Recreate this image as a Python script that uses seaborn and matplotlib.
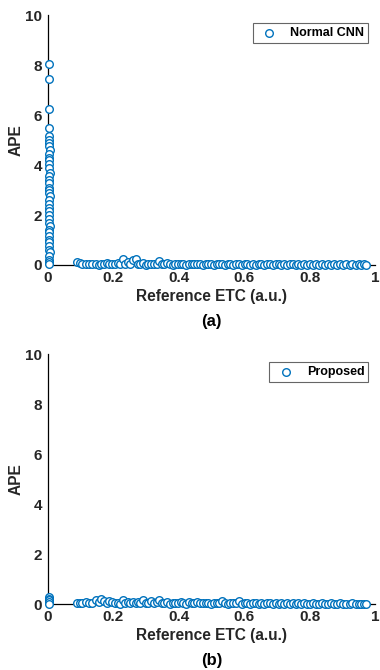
import matplotlib
matplotlib.use("Agg")
import matplotlib.pyplot as plt
import seaborn as sns
import pandas as pd

# APE at zero reference ETC (vertical cluster) and along the ETC range
cnn_zero_y = [8.05, 7.45, 6.25, 5.5, 5.15, 5.0, 4.9, 4.75, 4.6, 4.45, 4.3, 4.2, 4.05,
              3.9, 3.7, 3.55, 3.4, 3.3, 3.1, 3.0, 2.9, 2.75, 2.6, 2.45, 2.3, 2.15,
              2.0, 1.85, 1.7, 1.55, 1.4, 1.3, 1.15, 1.0, 0.9, 0.75, 0.6, 0.5, 0.35,
              0.2, 0.1, 0.02]
cnn_zero_x = [0.002, 0.003, 0.002, 0.004, 0.003, 0.002, 0.004, 0.003, 0.005, 0.002,
              0.003, 0.004, 0.002, 0.003, 0.005, 0.002, 0.004, 0.003, 0.002, 0.004,
              0.003, 0.005, 0.002, 0.003, 0.004, 0.002, 0.003, 0.004, 0.002, 0.005,
              0.003, 0.002, 0.004, 0.003, 0.002, 0.004, 0.003, 0.005, 0.002, 0.004,
              0.003, 0.004]

range_x = [0.090, 0.098, 0.105, 0.118, 0.127, 0.135, 0.148, 0.155, 0.162, 0.171,
           0.180, 0.188, 0.196, 0.205, 0.213, 0.221, 0.229, 0.236, 0.244, 0.252,
           0.260, 0.268, 0.275, 0.283, 0.291, 0.299, 0.307, 0.316, 0.324, 0.332,
           0.340, 0.348, 0.356, 0.365, 0.373, 0.381, 0.390, 0.398, 0.406, 0.414,
           0.423, 0.431, 0.440, 0.448, 0.456, 0.465, 0.473, 0.482, 0.490, 0.499,
           0.507, 0.516, 0.524, 0.533, 0.541, 0.550, 0.558, 0.567, 0.575, 0.584,
           0.592, 0.601, 0.609, 0.618, 0.627, 0.635, 0.644, 0.652, 0.661, 0.670,
           0.678, 0.687, 0.696, 0.705, 0.713, 0.722, 0.731, 0.740, 0.748, 0.757,
           0.766, 0.775, 0.784, 0.793, 0.802, 0.811, 0.820, 0.829, 0.838, 0.847,
           0.856, 0.866, 0.875, 0.884, 0.893, 0.903, 0.912, 0.922, 0.931, 0.941,
           0.950, 0.958, 0.966, 0.972]
cnn_range_y = [0.10, 0.07, 0.05, 0.02, 0.04, 0.03, 0.05, 0.00, 0.02, 0.03,
               0.06, 0.02, 0.05, 0.03, 0.08, 0.04, 0.25, 0.03, 0.10, 0.02,
               0.18, 0.22, 0.04, 0.02, 0.06, 0.01, 0.03, 0.05, 0.02, 0.04,
               0.15, 0.02, 0.04, 0.06, 0.03, 0.01, 0.05, 0.02, 0.04, 0.03,
               0.01, 0.02, 0.05, 0.03, 0.02, 0.04, 0.01, 0.03, 0.02, 0.05,
               0.01, 0.03, 0.02, 0.04, 0.01, 0.02, 0.03, 0.01, 0.02, 0.04,
               0.01, 0.02, 0.03, 0.01, 0.02, 0.01, 0.03, 0.02, 0.01, 0.02,
               0.04, 0.01, 0.02, 0.03, 0.01, 0.02, 0.01, 0.03, 0.02, 0.01,
               0.02, 0.01, 0.03, 0.01, 0.02, 0.01, 0.02, 0.01, 0.02, 0.01,
               0.03, 0.01, 0.02, 0.01, 0.02, 0.01, 0.02, 0.01, 0.02, 0.01,
               0.02, 0.01, 0.02, 0.01]

prop_zero_y = [0.30, 0.22, 0.15, 0.08, 0.02]
prop_zero_x = [0.002, 0.003, 0.002, 0.004, 0.003]
prop_range_y = [0.04, 0.03, 0.05, 0.08, 0.03, 0.06, 0.15, 0.10, 0.22, 0.12,
                0.05, 0.14, 0.08, 0.03, 0.06, 0.02, 0.16, 0.05, 0.09, 0.03,
                0.07, 0.04, 0.10, 0.05, 0.18, 0.06, 0.03, 0.12, 0.04, 0.08,
                0.16, 0.05, 0.04, 0.08, 0.02, 0.06, 0.04, 0.03, 0.07, 0.05,
                0.02, 0.10, 0.06, 0.03, 0.08, 0.05, 0.04, 0.03, 0.06, 0.02,
                0.05, 0.03, 0.04, 0.12, 0.03, 0.02, 0.05, 0.03, 0.04, 0.14,
                0.02, 0.03, 0.05, 0.02, 0.03, 0.04, 0.02, 0.03, 0.02, 0.04,
                0.03, 0.02, 0.03, 0.02, 0.04, 0.02, 0.03, 0.02, 0.03, 0.02,
                0.03, 0.02, 0.03, 0.01, 0.02, 0.03, 0.02, 0.01, 0.03, 0.02,
                0.02, 0.03, 0.01, 0.02, 0.03, 0.02, 0.01, 0.02, 0.03, 0.02,
                0.01, 0.02, 0.02, 0.01]

x_ticks = [0, 0.2, 0.4, 0.6, 0.8, 1]
x_tick_labels = ["0", "0.2", "0.4", "0.6", "0.8", "1"]
y_ticks = [0, 2, 4, 6, 8, 10]

sns.set_theme(style="white")
plt.rcParams["font.family"] = ["Liberation Sans", "DejaVu Sans"]
plt.rcParams["font.weight"] = "bold"

BLUE = "#0072BD"
TXT = "#262626"

fig = plt.figure(figsize=(3.8, 6.7), dpi=100)
ax_a = fig.add_axes([0.126, 0.6045, 0.861, 0.373])
ax_b = fig.add_axes([0.126, 0.0985, 0.861, 0.373])

panels = [
    (ax_a, cnn_zero_x + range_x, cnn_zero_y + cnn_range_y, "Normal CNN", "(a)"),
    (ax_b, prop_zero_x + range_x, prop_zero_y + prop_range_y, "Proposed", "(b)"),
]

for ax, xs, ys, name, tag in panels:
    df = pd.DataFrame({"etc": xs, "ape": ys})
    sns.scatterplot(data=df, x="etc", y="ape", ax=ax, marker="o", s=30,
                    facecolor="white", edgecolor=BLUE, linewidth=1.0,
                    label=name, clip_on=False, zorder=3)
    ax.set_xlim(0, 1)
    ax.set_ylim(0, 10)
    ax.set_xticks(x_ticks)
    ax.set_xticklabels(x_tick_labels)
    ax.set_yticks(y_ticks)
    for s in ["top", "right"]:
        ax.spines[s].set_visible(False)
    for s in ["left", "bottom"]:
        ax.spines[s].set_color("black")
        ax.spines[s].set_linewidth(0.9)
    ax.tick_params(axis="both", direction="in", length=3, width=0.8, colors="black",
                   labelcolor=TXT, labelsize=11, pad=4)
    for lbl in ax.get_xticklabels() + ax.get_yticklabels():
        lbl.set_fontweight("bold")
    ax.set_xlabel("Reference ETC (a.u.)", fontsize=11.2, fontweight="bold", color=TXT,
                  labelpad=3)
    ax.set_ylabel("APE", fontsize=11.2, fontweight="bold", color=TXT, labelpad=1)
    ax.text(0.5, -0.228, tag, transform=ax.transAxes, ha="center", va="center",
            fontsize=12, fontweight="bold", color="black")
    leg = ax.legend(loc="upper right", bbox_to_anchor=(0.979, 0.968), frameon=True,
                    fancybox=False, handletextpad=0.7, borderpad=0.3,
                    borderaxespad=0.0, handlelength=2.0,
                    prop={"weight": "bold", "size": 9})
    leg.get_frame().set_edgecolor("#404040")
    leg.get_frame().set_linewidth(0.8)
    for t in leg.get_texts():
        t.set_color("black")

fig.savefig("out.png", dpi=100, facecolor="white")
